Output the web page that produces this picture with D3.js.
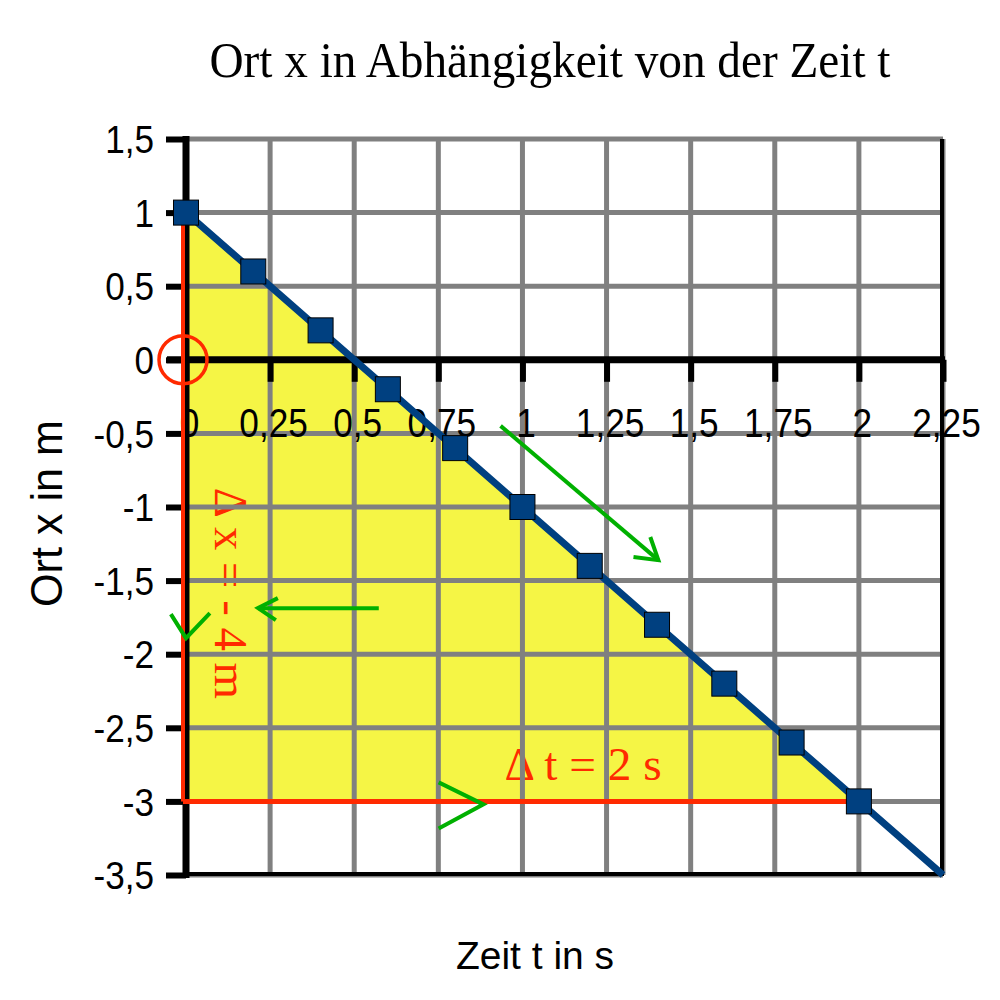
<!DOCTYPE html>
<html>
<head>
<meta charset="utf-8">
<script src="https://cdn.jsdelivr.net/npm/d3@7"></script>
<style>
  html, body { margin: 0; padding: 0; background: #fff; }
  svg { display: block; }
</style>
</head>
<body>
<div id="chart"></div>
<script>
// ---- data ----
const times = [0, 0.2, 0.4, 0.6, 0.8, 1.0, 1.2, 1.4, 1.6, 1.8, 2.0];
const positions = [1, 0.6, 0.2, -0.2, -0.6, -1.0, -1.4, -1.8, -2.2, -2.6, -3.0];
const lineEnd = [2.25, -3.5];
const xTickValues = [0, 0.25, 0.5, 0.75, 1, 1.25, 1.5, 1.75, 2, 2.25];
const xTickLabels = ["0", "0,25", "0,5", "0,75", "1", "1,25", "1,5", "1,75", "2", "2,25"];
const yTickValues = [1.5, 1, 0.5, 0, -0.5, -1, -1.5, -2, -2.5, -3, -3.5];
const yTickLabels = ["1,5", "1", "0,5", "0", "-0,5", "-1", "-1,5", "-2", "-2,5", "-3", "-3,5"];
const triangle = [[0, 1], [0, -3], [2, -3]];
const deltaX = [[0, 1], [0, -3]];
const deltaT = [[0, -3], [2, -3]];
const titleText = "Ort x in Abhängigkeit von der Zeit t";
const xTitle = "Zeit t in s";
const yTitle = "Ort x in m";
const dxLabel = "Δ x = - 4 m";
const dtLabel = "Δ t = 2 s";
// green hand-drawn arrows (data coords)
const greenStrokes = [
  [[0.935, -0.449], [1.404, -1.361]],
  [[1.33, -1.34], [1.404, -1.361], [1.38, -1.204]],
  [[0.573, -1.687], [0.214, -1.687]],
  [[0.273, -1.619], [0.214, -1.687], [0.267, -1.769]],
  [[-0.045, -1.728], [0.0, -1.891], [0.071, -1.721]],
  [[0.751, -2.871], [0.884, -3.02], [0.751, -3.184]]
];

// ---- layout ----
const W = 1000, H = 1000;
const svg = d3.select("#chart").append("svg").attr("width", W).attr("height", H);
const x = d3.scaleLinear().domain([0, 2.25]).range([186, 943]);
const y = d3.scaleLinear().domain([-3.5, 1.5]).range([875, 139]);

const RED = "#ff2a00", BLUE = "#004080", YELLOW = "#f5f545", GREEN = "#00b000", GRID = "#808080";
const SANS = "Liberation Sans, Arial, sans-serif";
const SERIF = "Liberation Serif, Times New Roman, serif";

function squeeze(sel, f) {
  sel.each(function () {
    const L = this.getComputedTextLength();
    d3.select(this).attr("textLength", L * f).attr("lengthAdjust", "spacingAndGlyphs");
  });
}

// yellow triangle
svg.append("path")
  .attr("d", d3.line().x(d => x(d[0])).y(d => y(d[1]))(triangle) + "Z")
  .attr("fill", YELLOW);

// Δ labels (under grid)
svg.append("text")
  .attr("transform", `translate(${x(0) + 29},${y(-0.87)}) rotate(90)`)
  .attr("font-family", SERIF)
  .attr("font-size", 47).attr("fill", RED)
  .attr("textLength", 211).attr("lengthAdjust", "spacingAndGlyphs")
  .text(dxLabel);
svg.append("text")
  .attr("x", x(0.947)).attr("y", y(-2.853))
  .attr("font-family", SERIF)
  .attr("font-size", 47).attr("fill", RED)
  .attr("textLength", 157).attr("lengthAdjust", "spacingAndGlyphs")
  .text(dtLabel);

// grid lines
const grid = svg.append("g");
grid.selectAll("line.v").data(xTickValues.filter(v => v !== 0)).enter().append("line")
  .attr("x1", d => x(d)).attr("x2", d => x(d))
  .attr("y1", y(1.5)).attr("y2", y(-3.5))
  .attr("stroke", GRID).attr("stroke-width", 5);
grid.selectAll("line.h").data(yTickValues.filter(v => v !== 0)).enter().append("line")
  .attr("x1", x(0)).attr("x2", x(2.25))
  .attr("y1", d => y(d)).attr("y2", d => y(d))
  .attr("stroke", GRID).attr("stroke-width", 5);

// plot border right & bottom
svg.append("line").attr("x1", x(2.25) - 1).attr("x2", x(2.25) - 1)
  .attr("y1", y(1.5)).attr("y2", y(-3.5) + 1)
  .attr("stroke", "#000").attr("stroke-width", 4);
svg.append("line").attr("x1", x(0)).attr("x2", x(2.25))
  .attr("y1", y(-3.5) - 1).attr("y2", y(-3.5) - 1)
  .attr("stroke", "#000").attr("stroke-width", 4);

// x axis at y=0
const xAxis = d3.axisBottom(x).tickValues(xTickValues)
  .tickFormat((d, i) => xTickLabels[i]).tickSize(22).tickPadding(27);
const gx = svg.append("g").attr("transform", `translate(0,${y(0)})`).call(xAxis);
gx.select(".domain").attr("stroke", "#000").attr("stroke-width", 7)
  .attr("d", `M${x(0) - 19},0H${x(2.25) + 2}`);
gx.selectAll(".tick line").attr("stroke", "#000").attr("stroke-width", 6);
gx.selectAll(".tick text")
  .attr("font-family", SANS)
  .attr("font-size", 40).attr("fill", "#000")
  .attr("dx", 3);
squeeze(gx.selectAll(".tick text"), 0.88);

// y axis at x=0
const yAxis = d3.axisLeft(y).tickValues(yTickValues)
  .tickFormat((d, i) => yTickLabels[i]).tickSize(20).tickPadding(12);
const gy = svg.append("g").attr("transform", `translate(${x(0)},0)`).call(yAxis);
gy.select(".domain").attr("stroke", "#000").attr("stroke-width", 7)
  .attr("d", `M0,${y(1.5) - 3}V${y(-3.5) + 3}`);
gy.selectAll(".tick line").attr("stroke", "#000").attr("stroke-width", 6);
gy.selectAll(".tick text")
  .attr("font-family", SANS)
  .attr("font-size", 39).attr("fill", "#000")
  .attr("dy", "0.35em");
squeeze(gy.selectAll(".tick text"), 0.9);
svg.selectAll(".domain").attr("fill", "none");

// red delta lines
const redLine = d3.line().x(d => x(d[0]) - (d[0] === 0 ? 3 : 0)).y(d => y(d[1]));
svg.append("path").attr("d", redLine(deltaX)).attr("stroke", RED).attr("stroke-width", 4).attr("fill", "none");
svg.append("path").attr("d", redLine(deltaT))
  .attr("stroke", RED).attr("stroke-width", 5).attr("fill", "none");

// red circle at origin
svg.append("circle").attr("cx", x(0) - 3).attr("cy", y(0)).attr("r", 24)
  .attr("fill", "none").attr("stroke", RED).attr("stroke-width", 3.5);

// data line
const pts = times.map((t, i) => [t, positions[i]]);
svg.append("path")
  .attr("d", d3.line().x(d => x(d[0])).y(d => y(d[1]))(pts.concat([lineEnd])))
  .attr("stroke", BLUE).attr("stroke-width", 7).attr("fill", "none");

// markers
const S = 25;
svg.selectAll("rect.m").data(pts).enter().append("rect")
  .attr("x", d => x(d[0]) - S / 2).attr("y", d => y(d[1]) - S / 2)
  .attr("width", S).attr("height", S)
  .attr("fill", BLUE).attr("stroke", "#000").attr("stroke-width", 1);

// green arrows
const gl = d3.line().x(d => x(d[0])).y(d => y(d[1]));
svg.selectAll("path.g").data(greenStrokes).enter().append("path")
  .attr("d", d => gl(d))
  .attr("stroke", GREEN).attr("stroke-width", 4).attr("fill", "none")
  .attr("stroke-linejoin", "miter");

// titles
svg.append("text")
  .attr("x", 550).attr("y", 77).attr("text-anchor", "middle")
  .attr("font-family", SERIF)
  .attr("font-size", 50).attr("fill", "#000")
  .attr("textLength", 681).attr("lengthAdjust", "spacingAndGlyphs")
  .text(titleText);
svg.append("text")
  .attr("x", 456).attr("y", 969)
  .attr("textLength", 158).attr("lengthAdjust", "spacingAndGlyphs")
  .attr("font-family", SANS)
  .attr("font-size", 38).attr("fill", "#000")
  .text(xTitle);
svg.append("text")
  .attr("transform", "translate(62,607) rotate(-90)")
  .attr("textLength", 187).attr("lengthAdjust", "spacingAndGlyphs")
  .attr("font-family", SANS)
  .attr("font-size", 44).attr("fill", "#000")
  .text(yTitle);
</script>
</body>
</html>
